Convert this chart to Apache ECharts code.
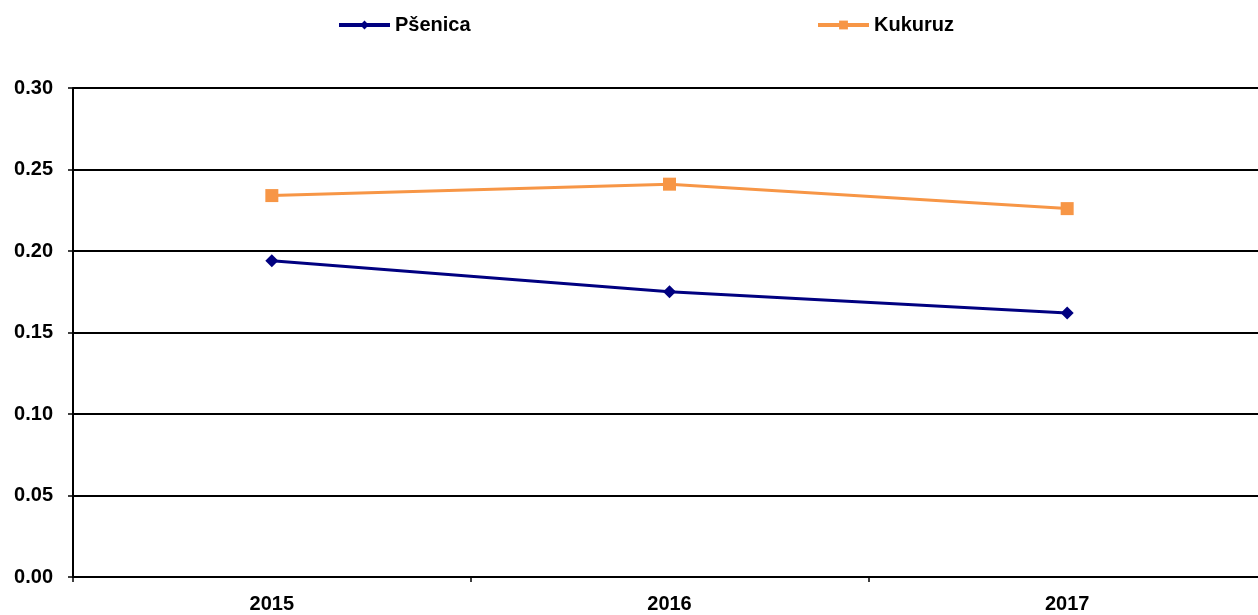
<!DOCTYPE html>
<html>
<head>
<meta charset="utf-8">
<script src="https://cdn.jsdelivr.net/npm/echarts@6/dist/echarts.min.js"></script>
<style>
  html, body { margin: 0; padding: 0; background: #fff; }
  #chart { width: 1258px; height: 615px; }
</style>
</head>
<body>
<div id="chart"></div>
<script>
const years = ['2015', '2016', '2017']
const psenica = [0.194, 0.175, 0.162]
const kukuruz = [0.234, 0.241, 0.226]

const font = '"Liberation Sans", Arial, sans-serif'
const chart = echarts.init(document.getElementById('chart'))

const legendText = { fontFamily: font, fontWeight: 'bold', fontSize: 20, color: '#000' }

chart.setOption({
  animation: false,
  legend: [
    {
      data: ['Pšenica'],
      left: 337, top: 15, padding: 0,
      itemWidth: 51, itemHeight: 11, itemGap: 5,
      lineStyle: { width: 4 },
      textStyle: legendText,
    },
    {
      data: ['Kukuruz'],
      left: 816, top: 15, padding: 0,
      itemWidth: 51, itemHeight: 11, itemGap: 5,
      lineStyle: { width: 4 },
      textStyle: legendText,
    },
  ],
  // plot box runs a little past the right edge of the picture
  grid: { left: 73, top: 88, width: 1193, bottom: 38, containLabel: false, outerBoundsMode: 'none' },
  xAxis: {
    type: 'category',
    data: years,
    axisLine: { lineStyle: { color: '#000', width: 2 } },
    axisTick: { show: true, length: 5, lineStyle: { color: '#000', width: 1.5 } },
    axisLabel: { color: '#000', fontFamily: font, fontWeight: 'bold', fontSize: 20, margin: 17 },
  },
  yAxis: {
    type: 'value',
    min: 0, max: 0.3, interval: 0.05,
    axisLine: { show: true, lineStyle: { color: '#000', width: 2 } },
    axisTick: { show: true, length: 5, lineStyle: { color: '#000', width: 1.5 } },
    axisLabel: {
      color: '#000', fontFamily: font, fontWeight: 'bold', fontSize: 20, margin: 20,
      formatter: v => v.toFixed(2),
    },
    splitLine: { lineStyle: { color: '#000', width: 2 } },
  },
  series: [
    {
      name: 'Pšenica',
      type: 'line',
      data: psenica,
      symbol: 'diamond',
      symbolSize: 13,
      lineStyle: { color: '#000080', width: 3 },
      itemStyle: { color: '#000080' },
    },
    {
      name: 'Kukuruz',
      type: 'line',
      data: kukuruz,
      symbol: 'rect',
      symbolSize: 13,
      lineStyle: { color: '#F79646', width: 3 },
      itemStyle: { color: '#F79646' },
    },
  ],
})
</script>
</body>
</html>
